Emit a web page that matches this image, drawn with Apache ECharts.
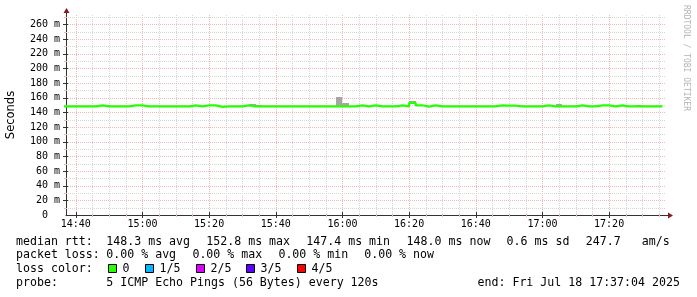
<!DOCTYPE html>
<html><head><meta charset="utf-8">
<script src="https://cdn.jsdelivr.net/npm/echarts@6/dist/echarts.min.js"></script>
<style>html,body{margin:0;padding:0;background:#fff}#c{width:697px;height:297px}</style>
</head><body><div id="c"></div>
<script>
// ---- data (SmokePing, 120 s step) ----
const firstSample = '14:36';
const stepMinutes = 2;
const viewStart = '14:37:04';
const viewEnd = '17:37:04';
// median RTT per step, ms
const medianRtt = [
  148.0,148.0,148.0,148.0,148.0,148.0,149.4,148.0,148.0,148.0,
  148.0,149.4,149.4,148.0,148.0,148.0,148.0,148.0,148.0,148.0,
  149.4,148.0,149.4,149.4,147.4,148.0,148.0,148.0,149.4,148.0,
  148.0,148.0,148.0,148.0,148.0,148.0,148.0,148.0,148.0,148.0,
  148.0,148.0,148.0,148.0,148.0,149.4,148.0,149.4,148.0,148.0,
  148.0,149.4,148.0,152.8,149.6,147.8,149.4,148.0,148.0,148.0,
  148.0,148.0,148.0,148.0,148.0,148.0,149.4,149.0,149.0,148.0,
  148.0,148.0,148.0,149.4,148.0,148.0,148.0,148.0,149.4,148.0,
  148.0,149.4,149.4,148.0,149.4,148.0,148.0,148.0,148.0,148.0,
  148.0
];
// highest ping per step (top of smoke), ms
const pingMax = [
  148.0,148.0,148.0,148.0,148.0,148.0,149.4,148.0,148.0,148.0,
  148.0,149.4,149.4,148.0,148.0,148.0,148.0,148.0,148.0,148.0,
  149.4,148.0,149.4,149.4,147.4,148.0,148.0,148.0,149.4,151.8,
  150.2,148.0,148.0,148.0,148.0,148.0,148.0,148.0,148.0,148.0,
  148.0,148.0,161.3,152.8,148.0,149.4,148.0,149.4,148.0,148.0,
  148.0,149.4,148.0,156.0,149.6,147.8,149.4,148.0,148.0,148.0,
  148.0,148.0,148.0,148.0,148.0,148.0,149.4,150.4,150.4,148.0,
  148.0,148.0,148.0,149.4,148.0,152.0,148.0,148.0,149.4,148.0,
  148.0,149.4,149.4,148.0,149.4,148.0,148.0,150.2,148.0,148.0,
  148.0
];
const xTickLabels = ['14:40','15:00','15:20','15:40','16:00','16:20','16:40','17:00','17:20'];
const yTickValues = [0,20,40,60,80,100,120,140,160,180,200,220,240,260];
const yMaxMs = 272.7;

const statsRow1 = [['median rtt:',16],['148.3 ms avg',106.3],['152.8 ms max',206.3],['147.4 ms min',306.3],['148.0 ms now',406.6],['0.6 ms sd',506.6],['247.7',585.8],['am/s',641.8]];
const statsRow2 = [['packet loss:',16],['0.00 % avg',106.3],['0.00 % max',192.4],['0.00 % min',278.4],['0.00 % now',364.2]];
const lossColors = [['0','#26ff00'],['1/5','#00b8ff'],['2/5','#dd00ff'],['3/5','#5e00ff'],['4/5','#ff0000']];
const probeText = '5 ICMP Echo Pings (56 Bytes) every 120s';
const endText = 'end: Fri Jul 18 17:37:04 2025';

// ---- helpers ----
function toMin(s){const p=s.split(':').map(Number);return p[0]*60+p[1]+(p[2]||0)/60;}
function fmt(m){const h=Math.floor(m/60),mm=Math.round(m-h*60);return String(h).padStart(2,'0')+':'+String(mm).padStart(2,'0');}
const t0 = toMin(firstSample);
const xs = medianRtt.map((_,i)=>t0+i*stepMinutes);
const xMin = toMin(viewStart), xMax = toMin(viewEnd);

const medData = xs.map((x,i)=>[x, medianRtt[i]]);
const smokeData = xs.map((x,i)=>[x, medianRtt[i], pingMax[i]]);

const MAJ = '#efb9b9', MIN = '#d6d6d6', AX = '#333';
const vGrid = []; for(let m=Math.ceil(xMin/5)*5; m<xMax; m+=5){ vGrid.push([m, m%20===0?1:0]); }
const hGrid = []; for(let v=10; v<yMaxMs; v+=10){ hGrid.push([xMin, v, v%20===0?1:0]); }

const FONT = 'DejaVu Sans Mono';
const chart = echarts.init(document.getElementById('c'), null, {renderer:'canvas'});
const option = {
  animation:false,
  backgroundColor:'#fff',
  grid:{left:66,right:31,top:15,bottom:82,containLabel:false,outerBoundsMode:'none'},
  xAxis:{type:'value',min:xMin,max:xMax,
    axisLine:{show:true,lineStyle:{color:AX,width:1}},
    axisTick:{show:false},splitLine:{show:false},
    axisLabel:{customValues:xTickLabels.map(toMin),formatter:v=>fmt(v),fontFamily:FONT,fontSize:10,color:'#000',margin:4}
  },
  yAxis:{type:'value',min:0,max:yMaxMs,interval:20,
    name:'Seconds',nameLocation:'middle',nameGap:49,
    nameTextStyle:{fontFamily:'DejaVu Sans',fontSize:11.5,color:'#000'},
    axisLine:{show:true,lineStyle:{color:AX,width:1}},
    axisTick:{show:false},splitLine:{show:false},
    axisLabel:{showMaxLabel:false,fontFamily:FONT,fontSize:10,color:'#000',margin:6,
      formatter:v=> yTickValues.indexOf(v)<0 ? '' : (v===0?'0  ':v+' m')}
  },
  series:[
    {type:'custom',z:1,silent:true,clip:false,data:vGrid,encode:{x:0},
      renderItem:(params,api)=>{
        const cs=params.coordSys; const v=api.value(0); const major=api.value(1);
        const x=Math.round(api.coord([v,0])[0])+0.5; const yb=cs.y+cs.height;
        return {type:'group',children:[
          {type:'line',shape:{x1:x,y1:cs.y,x2:x,y2:yb},style:{stroke:major?MAJ:MIN,lineWidth:1,lineDash:[1,1]}},
          {type:'line',shape:{x1:x,y1:yb-(major?3:1),x2:x,y2:yb+(major?3:2)},style:{stroke:major?AX:MAJ,lineWidth:1}}
        ]};
      }},
    {type:'custom',z:1,silent:true,clip:false,data:hGrid,encode:{x:0,y:1},
      renderItem:(params,api)=>{
        const cs=params.coordSys; const v=api.value(1); const major=api.value(2);
        const y=Math.round(api.coord([xMin,v])[1])+0.5;
        return {type:'group',children:[
          {type:'line',shape:{x1:cs.x,y1:y,x2:cs.x+cs.width,y2:y},style:{stroke:major?MAJ:MIN,lineWidth:1,lineDash:[1,1]}},
          {type:'line',shape:{x1:cs.x-(major?3:2),y1:y,x2:cs.x+(major?2:1),y2:y},style:{stroke:major?AX:MAJ,lineWidth:1}}
        ]};
      }},
    {type:'custom',z:2,silent:true,clip:true,data:smokeData,encode:{x:0,y:[1,2]},
      renderItem:(params,api)=>{
        const x=api.value(0), lo=api.value(1), hi=api.value(2);
        if(hi<=lo) return null;
        const a=api.coord([x-stepMinutes,hi]), b=api.coord([x,lo]);
        const cs=params.coordSys;
        const x1=Math.max(cs.x,Math.round(a[0])), x2=Math.round(b[0]);
        return {type:'rect',shape:{x:x1,y:Math.round(a[1]),width:x2-x1,height:Math.round(b[1])-Math.round(a[1])},style:{fill:'#a6a6a6'}};
      }},
    {type:'line',z:3,silent:true,step:'start',symbol:'none',data:medData,lineStyle:{color:'#26ff00',width:2.2}}
  ]
};
chart.setOption(option);

const pA = chart.convertToPixel({gridIndex:0},[xMin,0]);
const pB = chart.convertToPixel({gridIndex:0},[xMax,yMaxMs]);
const ax = Math.round(pA[0])+0.5, ay = Math.round(pA[1])+0.5, rx = Math.round(pB[0]), ty = Math.round(pB[1]);
const ARROW = '#8b1a1a';
const g = [];
g.push({type:'line',shape:{x1:ax,y1:ty,x2:ax,y2:ty-4},style:{stroke:AX,lineWidth:1}});
g.push({type:'polygon',shape:{points:[[ax-3,ty-2],[ax+3,ty-2],[ax,ty-7]]},style:{fill:ARROW}});
g.push({type:'line',shape:{x1:rx,y1:ay,x2:rx+3,y2:ay},style:{stroke:AX,lineWidth:1}});
g.push({type:'polygon',shape:{points:[[rx+2,ay-3],[rx+2,ay+3],[rx+7,ay]]},style:{fill:ARROW}});
function txt(s,x,y,extra){return Object.assign({type:'text',x:x,y:y,style:{text:s,font:'11.6px "'+FONT+'"',fill:'#000',align:'left',verticalAlign:'middle',textAlign:'left',textVerticalAlign:'middle'}},extra||{});}
statsRow1.forEach(r=>g.push(txt(r[0],r[1],241.5)));
statsRow2.forEach(r=>g.push(txt(r[0],r[1],255.3)));
g.push(txt('loss color:',16,269));
const boxX=[108.5,145.5,196.5,246.5,297.5];
lossColors.forEach((c,i)=>{
  g.push({type:'rect',shape:{x:boxX[i],y:264.5,width:8,height:8},style:{fill:c[1],stroke:'#000',lineWidth:1}});
  g.push(txt(c[0],boxX[i]+14,269));
});
g.push(txt('probe:',16,282.8));
g.push(txt(probeText,106.3,282.8));
g.push(txt(endText,477.5,282.8));
g.push({type:'text',x:686,y:5,rotation:-Math.PI/2,style:{text:'RRDTOOL / TOBI OETIKER',font:'8px "'+FONT+'"',fill:'#b4b4b4',align:'left',verticalAlign:'middle',textAlign:'left',textVerticalAlign:'middle'}});
chart.setOption({graphic:g});
</script></body></html>
